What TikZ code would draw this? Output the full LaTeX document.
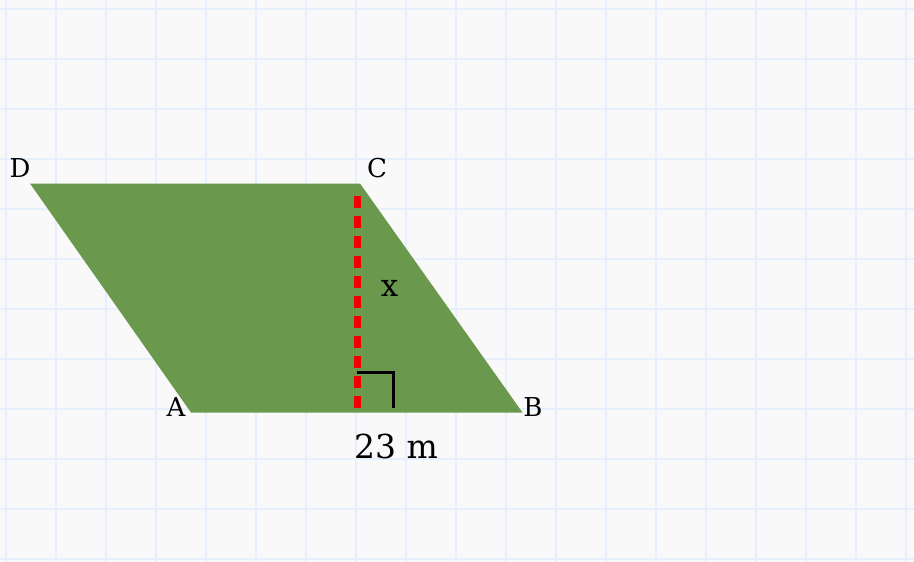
\documentclass[tikz,border=0pt]{standalone}
\usepackage{fontspec}
\setmainfont{DejaVu Serif}
\definecolor{bgc}{HTML}{F9F9F9}
\definecolor{gridc}{HTML}{E6F0FC}
\definecolor{shapec}{HTML}{6A994E}
\definecolor{redc}{HTML}{F00000}
\begin{document}
\begin{tikzpicture}[x=1pt,y=-1pt,
  gridline/.style={draw=gridc,line width=2pt},
  lbl/.style={inner sep=0pt,font=\fontsize{26}{30}\selectfont},
  heightline/.style={draw=redc,line width=6.5pt,dash pattern=on 12pt off 8pt},
  rightmark/.style={draw=black,line width=3pt}]
\fill[bgc] (0,0) rectangle (914,562);
\useasboundingbox (0,0) rectangle (914,562);
\foreach \i in {0,...,18} \draw[gridline] (5.5+50*\i,0) -- (5.5+50*\i,562);
\foreach \j in {0,...,11} \draw[gridline] (0,8.5+50*\j) -- (914,8.5+50*\j);
\coordinate (A) at (191,412.5);
\coordinate (B) at (522.5,412.5);
\coordinate (C) at (360,183.5);
\coordinate (D) at (30,183.5);
\fill[shapec] (A) -- (B) -- (C) -- (D) -- cycle;
\coordinate (H1) at (357.5,196);
\coordinate (H2) at (357.5,412.5);
\draw[heightline] (H1) -- (H2);
\coordinate (R1) at (356.5,372.5);
\coordinate (R2) at (393.5,372.5);
\coordinate (R3) at (393.5,408);
\draw[rightmark] (R1) -- (R2) -- (R3);
\node[lbl] (lD) at (20,168) {D};
\node[lbl] (lC) at (377,168) {C};
\node[lbl] (lA) at (176,407.5) {A};
\node[lbl] (lB) at (533,407.5) {B};
\node[lbl,font=\fontsize{31}{35}\selectfont] (lx) at (389.5,288) {x};
\node[lbl,font=\fontsize{33}{38}\selectfont] (lm) at (396,446) {23 m};
\end{tikzpicture}
\end{document}
